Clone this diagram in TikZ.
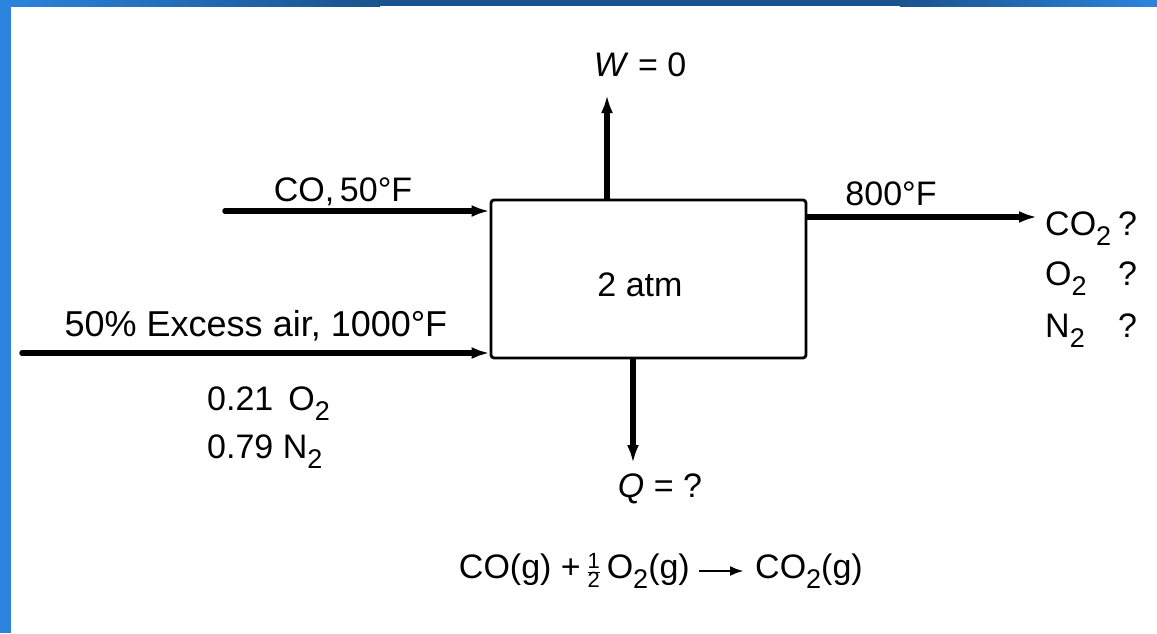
\documentclass[tikz,border=0pt]{standalone}
\usepackage{fontspec}
\setmainfont{Liberation Sans}
\usetikzlibrary{arrows.meta}
\definecolor{barlight}{RGB}{43,132,221}
\definecolor{bardark}{RGB}{26,82,140}
\newcommand{\subtwo}{\raisebox{-0.32em}{\fontsize{27}{27}\selectfont 2}}
\newcommand{\halffrac}{\ensuremath{\frac{\hbox{\fontsize{22}{22}\selectfont 1}}{\hbox{\fontsize{22}{22}\selectfont 2}}}}
\begin{document}
\begin{tikzpicture}[x=1pt,y=-1pt,
  lbl/.style={inner sep=0pt,font=\fontsize{34}{40}\selectfont},
  stream/.style={line width=5.5pt,-{Latex[length=18pt,width=12pt]}},
  unitbox/.style={draw,line width=2.8pt,rounded corners=3pt,minimum width=315pt,minimum height=158pt,inner sep=0pt}]
\useasboundingbox (0,0) rectangle (1157,633);
% frame bars
\shade[left color=barlight,right color=bardark] (0,0) rectangle (380,6);
\fill[bardark] (379,0) rectangle (901,6);
\shade[left color=bardark,right color=barlight] (900,0) rectangle (1157,6);
\fill[barlight] (0,0) rectangle (11,633);
% unit
\node[unitbox] (box) at (648.5,279) {};
\node[lbl,anchor=base] (p) at (640,296) {2 atm};
% streams
\coordinate (coIn) at (225,211);
\coordinate (airIn) at (22,353);
\coordinate (outEnd) at (1037,217);
\coordinate (wEnd) at (607,95);
\coordinate (qEnd) at (633,463);
\draw[stream,line cap=round] (coIn) -- (coIn -| box.west);
\draw[stream,line cap=round] (airIn) -- (airIn -| box.west);
\draw[stream] (box.east |- outEnd) -- (outEnd);
\draw[stream] (wEnd |- box.north) -- (wEnd);
\draw[stream] (qEnd |- box.south) -- (qEnd);
% labels
\node[lbl,anchor=base] (wl) at (640,76) {\textit{W} = 0};
\node[lbl,anchor=base] (col) at (343,201) {CO,\,50°F};
\node[lbl,anchor=base,font=\fontsize{36}{40}\selectfont] (airl) at (256,336) {50\% Excess air, 1000°F};
\node[lbl,anchor=base west] (o2in) at (207,410) {0.21 \,O\subtwo};
\node[lbl,anchor=base west] (n2in) at (207,458) {0.79 N\subtwo};
\node[lbl,anchor=base] (tout) at (891,205) {800°F};
\node[lbl,anchor=base west] (co2o) at (1045,235) {CO\subtwo};
\node[lbl,anchor=base west] (o2o) at (1045,285) {O\subtwo};
\node[lbl,anchor=base west] (n2o) at (1045,337) {N\subtwo};
\node[lbl,anchor=base west] (q1) at (1118,235) {?};
\node[lbl,anchor=base west] (q2) at (1118,285) {?};
\node[lbl,anchor=base west] (q3) at (1118,337) {?};
\node[lbl,anchor=base] (ql) at (660,497) {\textit{Q} = ?};
% reaction
\node[lbl,anchor=base east] (eqL) at (690,578) {CO(g) +\,\halffrac\,O\subtwo(g)};
\node[lbl,anchor=base west] (eqR) at (755,578) {CO\subtwo(g)};
\draw[line width=2.8pt,-{Latex[length=14pt,width=10pt]}] ([xshift=9pt,yshift=7pt]eqL.base east) -- ([xshift=-11pt,yshift=7pt]eqR.base west);
\end{tikzpicture}
\end{document}
